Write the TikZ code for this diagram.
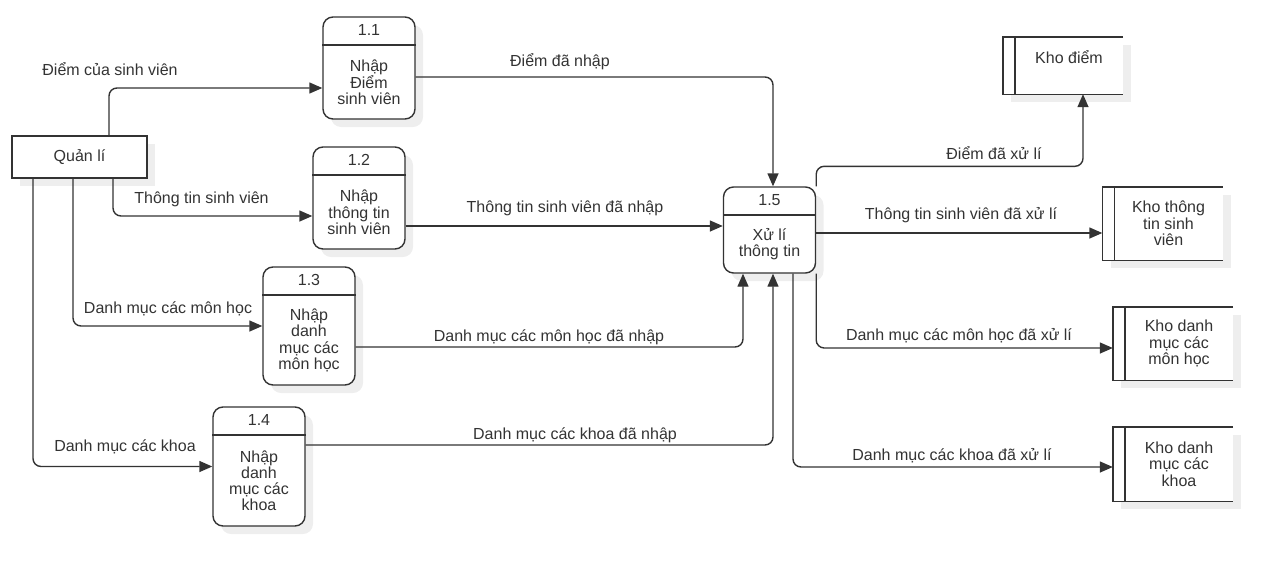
\documentclass[tikz,border=0pt]{standalone}
\usepackage{fontspec}
\setmainfont{Liberation Sans}
\usetikzlibrary{shadows,calc,positioning,arrows.meta}
\definecolor{colorLine}{HTML}{333333}
\definecolor{colorShadow}{HTML}{EEEEEE}

\begin{document}
\begin{tikzpicture}[x=1pt,y=-1pt,
        font=\fontsize{16}{16.3}\selectfont,
        every node/.style={text=colorLine},
        dshadow/.style={drop shadow={shadow xshift=8pt,shadow yshift=-8pt,fill=colorShadow,opacity=1}},
        proc/.style={draw=colorLine,line width=1.4pt,fill=white,rounded corners=10pt,minimum width=92pt,inner sep=0pt,dshadow},
        store/.style={fill=white,minimum width=120pt,inner sep=0pt,dshadow},
        wall/.style={draw=colorLine,line width=1.4pt},
        flow/.style={draw=colorLine,line width=1.4pt,rounded corners=8pt,-{Triangle[length=13pt,width=11pt]}},
        lbl/.style={anchor=base}]
        \useasboundingbox (0,0) rectangle (1286,563);

        % external entity
        \node[draw=colorLine,line width=1.4pt,fill=white,minimum width=135pt,minimum height=42pt,inner sep=0pt,dshadow] (ql) at (79.5,157) {Quản lí};

        % processes
        \foreach \pname/\px/\py/\ph/\pno/\ptext in {
                p11/369/68/102/1.1/{Nhập\\Điểm\\sinh viên},
                p12/359/198/102/1.2/{Nhập\\thông tin\\sinh viên},
                p13/309/326/118/1.3/{Nhập\\danh\\mục các\\môn học},
                p14/259/466.5/119/1.4/{Nhập\\danh\\mục các\\khoa},
                p15/769.5/230/86/1.5/{Xử lí\\thông tin}}{
            \node[proc,minimum height=\ph pt] (\pname) at (\px,\py) {};
            \draw[wall] ([yshift=-28.5pt]\pname.north west) -- ([yshift=-28.5pt]\pname.north east);
            \node (\pname-no) at ([yshift=-14pt]\pname.north) {\pno};
            \node[align=center,inner sep=0pt] (\pname-txt) at ([yshift=-14.25pt]\pname.center) {\ptext};
        }

        % data stores
        \foreach \sname/\sx/\sy/\sh/\sdy/\stext in {
                s1/1063/65.5/57/8/{Kho điểm},
                s2/1162.5/223.5/73/0/{Kho thông\\tin sinh\\viên},
                s3/1173/343.5/73/0/{Kho danh\\mục các\\môn học},
                s4/1173/464/74/0/{Kho danh\\mục các\\khoa}}{
            \node[store,minimum height=\sh pt] (\sname) at (\sx,\sy) {};
            \draw[wall] (\sname.north east) -- (\sname.north west) -- (\sname.south west) -- (\sname.south east);
            \draw[wall] ([xshift=12pt]\sname.north west) -- ([xshift=12pt]\sname.south west);
            \node[align=center,inner sep=0pt] (\sname-txt) at ([xshift=6pt,yshift=\sdy pt]\sname.center) {\stext};
        }

        % flows
        \draw[flow] ([xshift=29.5pt]ql.north) |- ([yshift=-20pt]p11.west);
        \draw[flow] ([xshift=33.5pt]ql.south) |- ([yshift=-18pt]p12.west);
        \draw[flow] ([xshift=-6.5pt]ql.south) |- (p13.west);
        \draw[flow] ([xshift=-46.5pt]ql.south) |- (p14.west);
        \draw[flow] ([yshift=-9pt]p11.east) -| ([xshift=3.5pt]p15.north);
        \draw[flow] ([yshift=-28pt]p12.east) -- ([yshift=4pt]p15.west);
        \draw[flow] ([yshift=-21pt]p13.east) -| ([xshift=-26.5pt]p15.south);
        \draw[flow] ([yshift=21.5pt]p14.east) -| ([xshift=3.5pt]p15.south);
        \draw[flow] (p15.north east) -- ++(0,-20) -| ([xshift=20pt]s1.south);
        \draw[flow] ([yshift=-3pt]p15.east) -- ([yshift=-9.5pt]s2.west);
        \draw[flow] (p15.south east) |- ([yshift=-4.5pt]s3.west);
        \draw[flow] ([xshift=23.5pt]p15.south) |- ([yshift=-3pt]s4.west);

        % flow labels
        \node[lbl] (l1) at (110,75) {Điểm của sinh viên};
        \node[lbl] (l2) at (201.5,203) {Thông tin sinh viên};
        \node[lbl] (l3) at (168,313) {Danh mục các môn học};
        \node[lbl] (l4) at (125,451) {Danh mục các khoa};
        \node[lbl] (l5) at (560,66) {Điểm đã nhập};
        \node[lbl] (l6) at (565,212) {Thông tin sinh viên đã nhập};
        \node[lbl] (l7) at (549,341) {Danh mục các môn học đã nhập};
        \node[lbl] (l8) at (575,439) {Danh mục các khoa đã nhập};
        \node[lbl] (l9) at (994,159) {Điểm đã xử lí};
        \node[lbl] (l10) at (961,219) {Thông tin sinh viên đã xử lí};
        \node[lbl] (l11) at (959,340) {Danh mục các môn học đã xử lí};
        \node[lbl] (l12) at (952,460) {Danh mục các khoa đã xử lí};
    \end{tikzpicture}
\end{document}
